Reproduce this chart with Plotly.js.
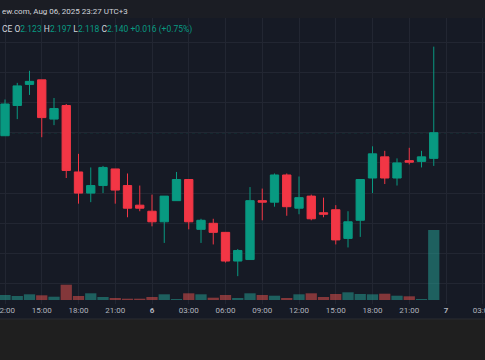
<!DOCTYPE html>
<html>
<head>
<meta charset="utf-8">
<script src="https://cdn.plot.ly/plotly-3.0.1.min.js"></script>
<style>
html,body{margin:0;padding:0;background:#161a25;}
#chart{width:485px;height:360px;}
</style>
</head>
<body>
<div id="chart"></div>
<script>
// ---- data ----
var times = [
  "2025-08-05 12:00","2025-08-05 13:00","2025-08-05 14:00","2025-08-05 15:00","2025-08-05 16:00","2025-08-05 17:00",
  "2025-08-05 18:00","2025-08-05 19:00","2025-08-05 20:00","2025-08-05 21:00","2025-08-05 22:00","2025-08-05 23:00",
  "2025-08-06 00:00","2025-08-06 01:00","2025-08-06 02:00","2025-08-06 03:00","2025-08-06 04:00","2025-08-06 05:00",
  "2025-08-06 06:00","2025-08-06 07:00","2025-08-06 08:00","2025-08-06 09:00","2025-08-06 10:00","2025-08-06 11:00",
  "2025-08-06 12:00","2025-08-06 13:00","2025-08-06 14:00","2025-08-06 15:00","2025-08-06 16:00","2025-08-06 17:00",
  "2025-08-06 18:00","2025-08-06 19:00","2025-08-06 20:00","2025-08-06 21:00","2025-08-06 22:00","2025-08-06 23:00"
];
var openP  = [2.138,2.158,2.172,2.175,2.149,2.158,2.114,2.100,2.105,2.116,2.105,2.092,
              2.088,2.081,2.095,2.109,2.076,2.080,2.074,2.055,2.056,2.095,2.094,2.112,
              2.090,2.098,2.087,2.089,2.070,2.082,2.110,2.124,2.110,2.1215,2.121,2.123];
var highP  = [2.162,2.173,2.181,2.175,2.163,2.159,2.126,2.117,2.118,2.116,2.113,2.105,
              2.099,2.098,2.114,2.109,2.083,2.083,2.074,2.063,2.104,2.103,2.113,2.113,
              2.111,2.099,2.097,2.092,2.088,2.109,2.131,2.128,2.123,2.130,2.128,2.197];
var lowP   = [2.138,2.149,2.165,2.137,2.145,2.110,2.093,2.094,2.100,2.093,2.084,2.088,
              2.078,2.067,2.095,2.076,2.067,2.066,2.054,2.045,2.056,2.082,2.091,2.085,
              2.086,2.082,2.084,2.066,2.064,2.071,2.100,2.106,2.105,2.119,2.117,2.118];
var closeP = [2.159,2.171,2.174,2.150,2.156,2.115,2.100,2.105,2.117,2.102,2.090,2.090,
              2.081,2.098,2.109,2.081,2.082,2.074,2.055,2.062,2.095,2.094,2.112,2.091,
              2.097,2.083,2.086,2.069,2.081,2.109,2.126,2.110,2.120,2.1205,2.124,2.140];
var volumeK = [50,40,57,47,33,153,40,67,30,20,13,13,30,57,10,67,57,23,50,20,67,50,43,20,
               57,67,30,60,77,60,57,63,43,37,10,700];
var tickVals = ["2025-08-05 12:00","2025-08-05 15:00","2025-08-05 18:00","2025-08-05 21:00",
                "2025-08-06 00:00","2025-08-06 03:00","2025-08-06 06:00","2025-08-06 09:00",
                "2025-08-06 12:00","2025-08-06 15:00","2025-08-06 18:00","2025-08-06 21:00",
                "2025-08-07 00:00","2025-08-07 03:00"];
var tickText = ["12:00","15:00","18:00","21:00","<b>6</b>","03:00","06:00","09:00",
                "12:00","15:00","18:00","21:00","<b>7</b>","03:00"];
var headerText = "ew.com, Aug 06, 2025 23:27 UTC+3";
var lastPrice = 2.140;

// ---- styles ----
var UP = "#089981", DOWN = "#f23645";
var UPV = "rgba(38,166,154,0.5)", DOWNV = "rgba(239,83,80,0.5)";
var volColors = closeP.map(function(c,i){ return c >= openP[i] ? UPV : DOWNV; });

var candles = {
  type: "candlestick", x: times, open: openP, high: highP, low: lowP, close: closeP,
  increasing: {line: {color: UP, width: 1}, fillcolor: UP},
  decreasing: {line: {color: DOWN, width: 1}, fillcolor: DOWN},
  whiskerwidth: 0, hoverinfo: "skip", showlegend: false, yaxis: "y"
};
var volume = {
  type: "bar", x: times, y: volumeK, width: 3600000*0.92,
  marker: {color: volColors, line: {width: 0}},
  yaxis: "y2", hoverinfo: "skip", showlegend: false
};

var sp = "&nbsp;";
var leg = '<span style="color:#d1d4dc">CE' + sp + 'O</span><span style="color:'+UP+'">'+openP[35].toFixed(3)+'</span>' +
          '<span style="color:#d1d4dc">' + sp + 'H</span><span style="color:'+UP+'">'+highP[35].toFixed(3)+'</span>' +
          '<span style="color:#d1d4dc">' + sp + 'L</span><span style="color:'+UP+'">'+lowP[35].toFixed(3)+'</span>' +
          '<span style="color:#d1d4dc">' + sp + 'C</span><span style="color:'+UP+'">'+closeP[35].toFixed(3)+'</span>' +
          '<span style="color:'+UP+'">' + sp + '+0.016 (+0.75%)</span>';

var layout = {
  width: 485, height: 360,
  margin: {l: 0, r: 0, t: 0, b: 56, pad: 0},
  paper_bgcolor: "#161a25", plot_bgcolor: "#161a25",
  font: {family: "Roboto, 'Noto Sans', sans-serif", size: 8, color: "#b2b5be"},
  boxgap: 0.15, boxgroupgap: 0.2,
  xaxis: {
    type: "date", range: ["2025-08-05 11:35:30", "2025-08-07 03:11:00"],
    tickvals: tickVals, ticktext: tickText, ticks: "", ticklabeloverflow: "allow",
    showgrid: true, gridcolor: "#222632", gridwidth: 1, zeroline: false, showline: false,
    rangeslider: {visible: false}, fixedrange: true,
    tickfont: {size: 8, color: "#b2b5be"}
  },
  yaxis: {
    range: [2.02656, 2.22788], dtick: 0.02, tick0: 2.0, showticklabels: false,
    showgrid: true, gridcolor: "#222632", gridwidth: 1, zeroline: false, showline: false, ticks: ""
  },
  yaxis2: {
    overlaying: "y", range: [-40, 3000], showgrid: false, showticklabels: false,
    zeroline: false, showline: false, ticks: ""
  },
  shapes: [
    {type: "line", xref: "paper", x0: 0, x1: 1, yref: "y", y0: lastPrice, y1: lastPrice,
     line: {color: "rgba(8,153,129,0.55)", width: 1, dash: "dot"}, layer: "below"},
    {type: "rect", xref: "paper", x0: 0, x1: 1, yref: "paper", y0: 286/304, y1: 1,
     fillcolor: "#1b1d24", line: {width: 0}, layer: "above"},
    {type: "rect", xref: "paper", x0: 0, x1: 1, yref: "paper", y0: -56/304, y1: -15/304,
     fillcolor: "#1f1f1f", line: {width: 0}, layer: "below"},
    {type: "line", xref: "paper", x0: 0, x1: 1, yref: "paper", y0: -15/304, y1: -15/304,
     line: {color: "#2a2c33", width: 1}, layer: "below"}
  ],
  annotations: [
    {xref: "paper", yref: "paper", x: 0, y: 1 - 11/304, xanchor: "left", yanchor: "middle",
     text: headerText, showarrow: false, font: {size: 8, color: "#d1d4dc"}},
    {xref: "paper", yref: "paper", x: 0, y: 1 - 29/304, xanchor: "left", yanchor: "middle",
     text: leg, showarrow: false, font: {size: 8.5, color: "#d1d4dc"}}
  ]
};

Plotly.newPlot("chart", [volume, candles], layout, {displayModeBar: false, staticPlot: true});
</script>
</body>
</html>
